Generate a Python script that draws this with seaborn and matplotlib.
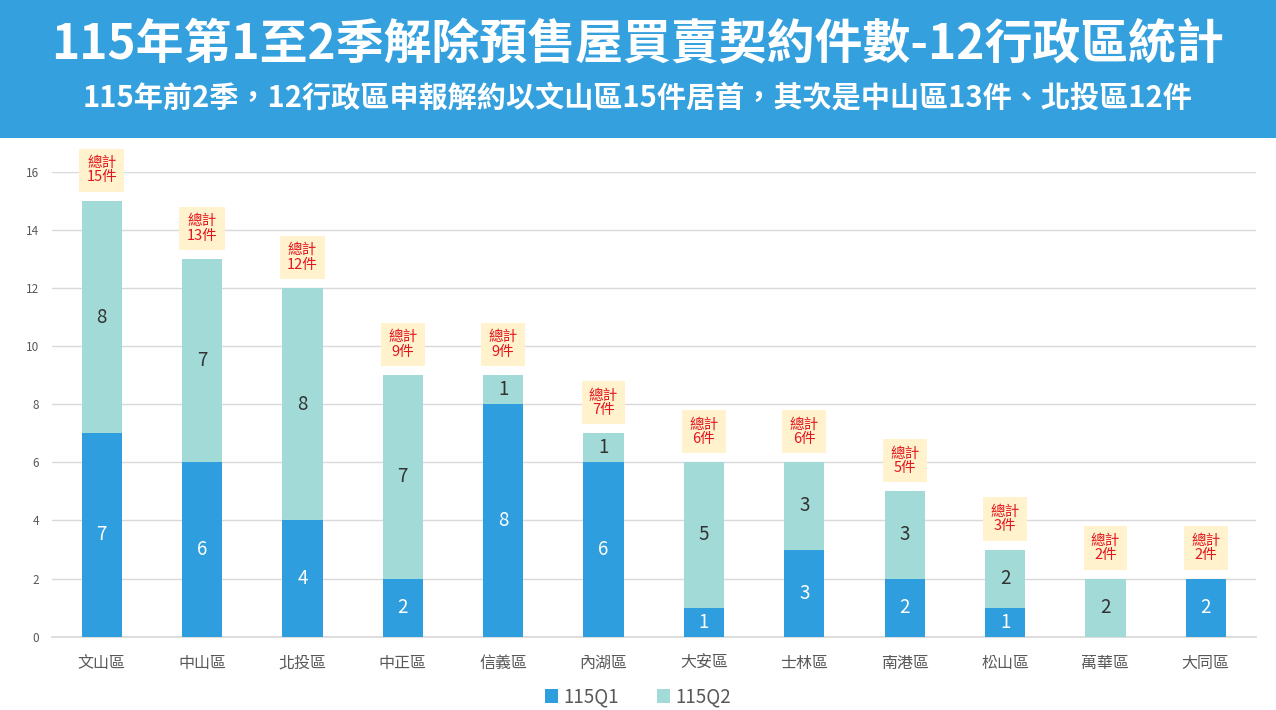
import matplotlib
matplotlib.use("Agg")
import matplotlib.pyplot as plt
from matplotlib.patches import Patch, Rectangle
import seaborn as sns
import pandas as pd

districts = ["文山區", "中山區", "北投區", "中正區", "信義區", "內湖區",
             "大安區", "士林區", "南港區", "松山區", "萬華區", "大同區"]
q1 = [7, 6, 4, 2, 8, 6, 1, 3, 2, 1, 0, 2]
q2 = [8, 7, 8, 7, 1, 1, 5, 3, 3, 2, 2, 0]
series_names = ["115Q1", "115Q2"]
yticks = [0, 2, 4, 6, 8, 10, 12, 14, 16]

title = "115年第1至2季解除預售屋買賣契約件數-12行政區統計"
subtitle = "115年前2季，12行政區申報解約以文山區15件居首，其次是中山區13件、北投區12件"

C1 = "#2F9EDF"
C2 = "#A1DAD6"
HEADER = "#35A0DE"

sns.set_theme(style="white")
plt.rcParams["font.family"] = ["Noto Sans CJK TC", "DejaVu Sans"]

totals = [a + b for a, b in zip(q1, q2)]
df = pd.DataFrame({"district": districts, "q1": q1, "q2": q2, "total": totals})

fig = plt.figure(figsize=(12.76, 7.10), dpi=100)
fig.patch.set_facecolor("white")

# header band
fig.add_artist(Rectangle((0, 1 - 138 / 710), 1, 138 / 710, transform=fig.transFigure,
                         facecolor=HEADER, edgecolor="none", zorder=0))
fig.text(0.5, 1 - 45 / 710, title, ha="center", va="center", color="white",
         fontsize=34.5, fontweight="bold")
fig.text(0.5, 1 - 97 / 710, subtitle, ha="center", va="center", color="white",
         fontsize=21, fontweight="bold")

ax = fig.add_axes([51.5 / 1276, 73.3 / 710, (1256 - 51.5) / 1276, (637 - 172) / 710])

sns.barplot(data=df, x="district", y="total", color=C2, width=0.4, ax=ax,
            saturation=1, linewidth=0, zorder=2)
sns.barplot(data=df, x="district", y="q1", color=C1, width=0.4, ax=ax,
            saturation=1, linewidth=0, zorder=3)

ax.set_ylim(0, 16)
ax.set_xlim(-0.5, len(districts) - 0.5)
ax.set_yticks(yticks)
ax.set_yticklabels([str(t) for t in yticks])
ax.yaxis.grid(True, color="#D9D9D9", linewidth=1)
ax.set_axisbelow(True)
for s in ["top", "right", "left"]:
    ax.spines[s].set_visible(False)
ax.spines["bottom"].set_color("#D9D9D9")
ax.spines["bottom"].set_zorder(1)
ax.set_xlabel("")
ax.set_ylabel("")
ax.tick_params(axis="y", length=0, pad=9, labelsize=8.5, labelcolor="#595959")
ax.tick_params(axis="x", length=0, pad=13, labelsize=11.5, labelcolor="#595959")

for i, (a, b, t) in enumerate(zip(q1, q2, totals)):
    if a > 0:
        ax.text(i, a / 2, str(a), ha="center", va="center", color="white",
                fontsize=13.5, zorder=5)
    if b > 0:
        ax.text(i, a + b / 2, str(b), ha="center", va="center", color="#333333",
                fontsize=13.5, zorder=5)
    ax.annotate(f"總計\n{t}件", xy=(i, t), xytext=(0, 22), textcoords="offset points",
                ha="center", va="center", color="#E3151E", fontsize=10.5,
                linespacing=1.05, annotation_clip=False, zorder=6,
                bbox=dict(boxstyle="square,pad=0.5", fc="#FFF2CC", ec="none"))

handles = [Patch(facecolor=C1, edgecolor="none"), Patch(facecolor=C2, edgecolor="none")]
fig.legend(handles, series_names, loc="center", bbox_to_anchor=(0.5, 1 - 697 / 710),
           ncol=2, frameon=False, fontsize=13.5, handlelength=0.7, handleheight=0.7,
           handletextpad=0.3, columnspacing=2.0, labelcolor="#595959")

fig.savefig("out.png", dpi=100, facecolor="white")
